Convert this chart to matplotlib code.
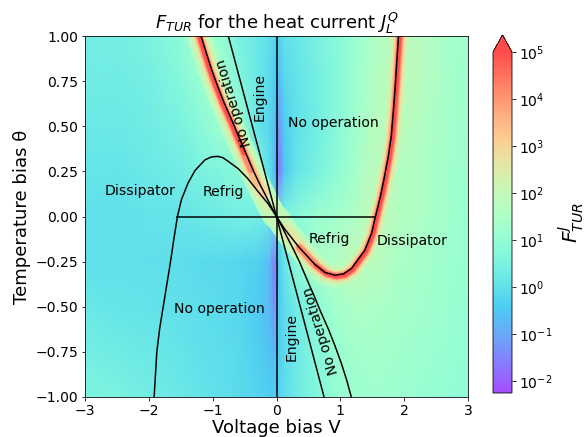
import matplotlib

matplotlib.use("Agg")
import matplotlib.pyplot as plt
import matplotlib.transforms as mtransforms
import numpy as np
from matplotlib.colors import ListedColormap, LogNorm

# ---------------------------------------------------------------------------
# Data
# ---------------------------------------------------------------------------
# background log10(F_TUR) on a coarse (non-uniform) grid, rows = theta
V_GRID = [-3, -2.5, -2, -1.5, -1.2, -0.9, -0.6, -0.3, -0.12, -0.04, 0,
          0.04, 0.12, 0.3, 0.6, 0.9, 1.2, 1.5, 1.9, 2.3, 2.7, 3]
THETA_GRID = [-1, -0.75, -0.5, -0.25, 0, 0.25, 0.5, 0.75, 1]
LOG_F = [
    [0.6, 0.5, 0.35, 0.2, 0.1, 0.0, -0.1, -0.25, -0.35, -0.4, -0.35,
     -0.25, -0.05, 0.25, 0.65, 1.0, 1.2, 1.25, 1.2, 1.1, 1.0, 0.95],
    [0.4, 0.3, 0.2, 0.1, 0.0, -0.05, -0.15, -0.35, -0.5, -0.7, -0.6,
     -0.35, -0.1, 0.2, 0.7, 1.1, 1.3, 1.35, 1.3, 1.2, 1.1, 1.0],
    [0.2, 0.1, 0.05, 0.0, -0.05, -0.1, -0.2, -0.4, -0.7, -1.3, -0.9,
     -0.4, -0.1, 0.3, 0.8, 1.3, 1.5, 1.5, 1.4, 1.3, 1.15, 1.05],
    [0.0, 0.0, 0.0, -0.05, -0.1, -0.15, -0.2, -0.3, -0.6, -1.6, -1.2,
     -0.4, 0.1, 0.9, 1.5, 1.6, 2.0, 1.8, 1.5, 1.35, 1.2, 1.1],
    [0.0, 0.0, 0.05, 0.1, 0.2, 0.3, 0.4, 0.4, 0.2, 0.1, 0.1,
     0.2, 0.5, 0.8, 1.1, 1.3, 1.5, 2.0, 1.7, 1.5, 1.3, 1.1],
    [0.1, 0.1, 0.2, 0.35, 0.5, 0.6, 0.8, 0.8, 0.0, -0.5, -1.3,
     -1.7, -0.5, 0.1, 0.45, 0.85, 1.3, 1.8, 1.7, 1.5, 1.3, 1.15],
    [0.2, 0.2, 0.3, 0.5, 0.8, 1.2, 1.3, 0.1, -0.2, -0.5, -1.0,
     -1.3, -0.4, 0.0, 0.3, 0.7, 1.2, 1.7, 1.9, 1.6, 1.35, 1.2],
    [0.3, 0.3, 0.4, 0.7, 1.1, 1.5, 0.7, 0.2, -0.1, -0.35, -0.6,
     -0.7, -0.2, 0.05, 0.35, 0.7, 1.1, 1.6, 2.0, 1.7, 1.4, 1.2],
    [0.35, 0.4, 0.55, 0.9, 1.6, 1.1, 0.5, 0.2, 0.0, -0.2, -0.3,
     -0.3, 0.0, 0.15, 0.45, 0.75, 1.1, 1.5, 2.0, 1.7, 1.4, 1.25],
]

# J^Q = 0 curve (F_TUR diverges there): upper-left arm and right parabola
JQ0_LEFT_V = [-1.182, -1.10, -1.016, -0.92, -0.818, -0.70, -0.589, -0.475,
              -0.365, -0.27, -0.182, -0.09, 0.0]
JQ0_LEFT_TH = [1.0, 0.907, 0.814, 0.72, 0.628, 0.534, 0.44, 0.347,
               0.255, 0.185, 0.125, 0.06, 0.0]
JQ0_RIGHT_V = [0.0, 0.13, 0.34, 0.6, 0.76, 0.915, 1.05, 1.175, 1.385, 1.49,
               1.55, 1.59, 1.64, 1.69, 1.75, 1.797, 1.83, 1.86, 1.885, 1.911]
JQ0_RIGHT_TH = [0.0, -0.07, -0.165, -0.265, -0.31, -0.325, -0.318, -0.288,
                -0.186, -0.093, 0.0, 0.056, 0.13, 0.218, 0.33, 0.441, 0.58,
                0.72, 0.86, 1.0]

# left parabola (refrigerator / dissipator boundary)
REFRIG_V = [-1.917, -1.895, -1.875, -1.83, -1.77, -1.72, -1.667, -1.61,
            -1.552, -1.49, -1.385, -1.276, -1.12, -1.02, -0.922, -0.84,
            -0.755, -0.6, -0.45, -0.29, -0.13, 0.0]
REFRIG_TH = [-1.0, -0.87, -0.75, -0.62, -0.49, -0.38, -0.266, -0.13,
             0.0, 0.093, 0.186, 0.255, 0.314, 0.33, 0.333, 0.326,
             0.305, 0.265, 0.21, 0.139, 0.07, 0.0]
# lower-right arm (no operation boundary)
NOOP_V = [0.0, 0.09, 0.182, 0.27, 0.365, 0.475, 0.589, 0.70, 0.818, 0.92,
          1.016, 1.10, 1.172]
NOOP_TH = [0.0, -0.06, -0.125, -0.185, -0.255, -0.347, -0.44, -0.534,
           -0.628, -0.72, -0.814, -0.907, -1.0]

# engine boundaries (straight through the origin)
ENGINE_UP_V = [-0.755, 0.0]
ENGINE_UP_TH = [1.0, 0.0]
ENGINE_LO_V = [0.0, 0.745]
ENGINE_LO_TH = [0.0, -1.0]

# theta = 0 segment between the two parabolas, and V = 0 axis
ZERO_V = [-1.552, 1.55]
ZERO_TH = [0.0, 0.0]
AXIS_V = [0.0, 0.0]
AXIS_TH = [-1.0, 1.0]

# region labels: (text, V, theta, rotation)
LABELS = [
    ("Dissipator", -2.13, 0.143, 0),
    ("Refrig", -0.83, 0.134, 0),
    ("No operation", -0.66, 0.63, 107),
    ("Engine", -0.26, 0.664, 90),
    ("No operation", 0.885, 0.519, 0),
    ("Refrig", 0.82, -0.127, 0),
    ("Dissipator", 2.12, -0.136, 0),
    ("No operation", -0.9, -0.513, 0),
    ("Engine", 0.23, -0.666, 90),
    ("No operation", 0.69, -0.63, 107),
]

# ---------------------------------------------------------------------------
# Style
# ---------------------------------------------------------------------------
DPI = 72  # sizes below are then pixels
ALPHA = 0.7
# rainbow at alpha 0.7 flattened onto white (avoids gouraud seams)
_rgba = plt.get_cmap("rainbow")(np.linspace(0, 1, 256))
_rgba[:, :3] = ALPHA * _rgba[:, :3] + (1 - ALPHA)
CMAP = ListedColormap(_rgba, name="rainbow_soft")
NORM = LogNorm(vmin=10 ** -2.25, vmax=1e5)
LINE = dict(color="black", lw=1.5, zorder=4)

# glow around the divergence line: (log10 level, line width, |V| kept clear
# around the origin, where the ridge fades out)
GLOW = [(1.7, 24, 0.0), (2.0, 19, 0.0), (2.3, 15, 0.05), (2.6, 12, 0.1),
        (3.0, 10, 0.15), (3.4, 8.5, 0.22), (3.8, 7.2, 0.28),
        (4.2, 6.0, 0.33), (4.6, 4.8, 0.38), (5.0, 3.5, 0.42)]


def _away_from_origin(vv, tt, cut):
    """Points of an arm with |V| >= cut (arms run monotonically in V)."""
    keep = [i for i, v in enumerate(vv) if abs(v) >= cut]
    return [vv[i] for i in keep], [tt[i] for i in keep]


fig = plt.figure(figsize=(587 / DPI, 437 / DPI), dpi=DPI)
ax = fig.add_axes([85 / 587, 1 - 397 / 437, 383 / 587, 361 / 437])
cax = fig.add_axes([493 / 587, 1 - 393 / 437, 19 / 587, 358 / 437])

mesh = ax.pcolormesh(
    V_GRID,
    THETA_GRID,
    10.0 ** np.array(LOG_F),
    cmap=CMAP,
    norm=NORM,
    shading="gouraud",
)

# glow sits a little on the outer side of the line
shift_left = mtransforms.offset_copy(ax.transData, fig=fig, x=-2.0, y=0.4,
                                     units="points")
shift_right = mtransforms.offset_copy(ax.transData, fig=fig, x=1.2, y=-1.2,
                                      units="points")
for level, lw, cut in GLOW:
    c = CMAP(NORM(10.0 ** level))
    lv, lt = _away_from_origin(JQ0_LEFT_V, JQ0_LEFT_TH, cut)
    rv, rt = _away_from_origin(JQ0_RIGHT_V, JQ0_RIGHT_TH, cut)
    ax.plot(lv, lt, color=c, lw=lw, solid_capstyle="round",
            solid_joinstyle="round", zorder=2, transform=shift_left)
    ax.plot(rv, rt, color=c, lw=lw, solid_capstyle="round",
            solid_joinstyle="round", zorder=2, transform=shift_right)

for vv, tt in (
    (JQ0_LEFT_V, JQ0_LEFT_TH),
    (JQ0_RIGHT_V, JQ0_RIGHT_TH),
    (REFRIG_V, REFRIG_TH),
    (NOOP_V, NOOP_TH),
    (ENGINE_UP_V, ENGINE_UP_TH),
    (ENGINE_LO_V, ENGINE_LO_TH),
    (ZERO_V, ZERO_TH),
    (AXIS_V, AXIS_TH),
):
    ax.plot(vv, tt, **LINE)

for txt, x, y, rot in LABELS:
    ax.text(x, y, txt, fontsize=14, ha="center", va="center",
            rotation=rot, rotation_mode="anchor", zorder=5)

ax.set_xlim(-3, 3)
ax.set_ylim(-1, 1)
ax.set_xlabel("Voltage bias V", fontsize=18, labelpad=1)
ax.set_ylabel("Temperature bias θ", fontsize=18)
ax.set_title(r"$F_{TUR}$ for the heat current $J_L^Q$", fontsize=18)
ax.tick_params(labelsize=14)

cbar = fig.colorbar(mesh, cax=cax, extend="max")
cbar.minorticks_off()
cbar.ax.tick_params(labelsize=14)
cbar.set_label(r"$F^{J}_{TUR}$", fontsize=20)

fig.savefig("out.png", dpi=DPI)
